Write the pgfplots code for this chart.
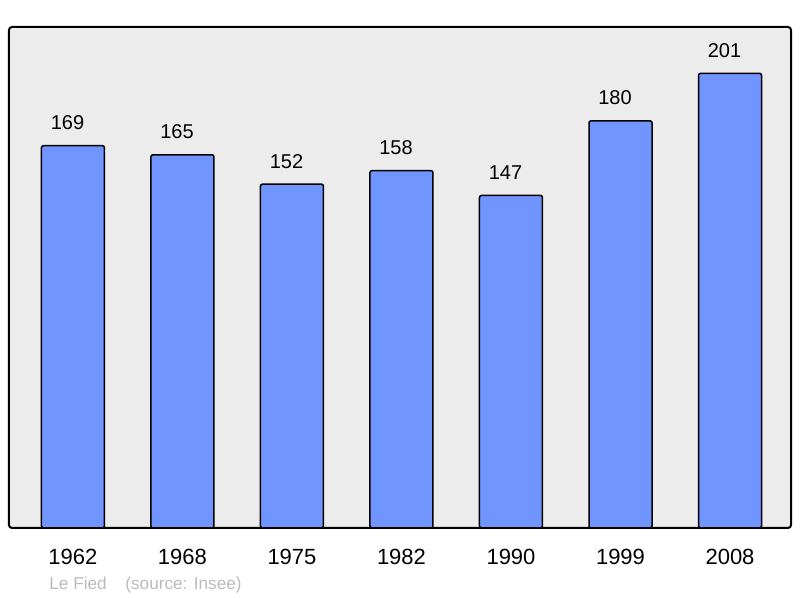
\documentclass[border=0pt]{standalone}
\usepackage{pgfplots}
\pgfplotsset{compat=1.18}
\usepackage{fontspec}
\setmainfont{Liberation Sans}
\definecolor{bggray}{HTML}{ECECEC}
\definecolor{barblue}{HTML}{7095FF}
\definecolor{srcgray}{HTML}{BBBBBB}
\begin{document}
\begin{tikzpicture}
\useasboundingbox (0,0) rectangle (400pt,299pt);
\begin{axis}[
  at={(4.5pt,35pt)}, anchor=south west,
  scale only axis, width=391pt, height=250.5pt,
  xmin=-0.584, xmax=6.557, ymin=0, ymax=221.5,
  axis background/.style={fill=bggray},
  axis line style={line width=1pt, rounded corners=1.5pt},
  ytick=\empty,
  xtick=data, xticklabels={1962,1968,1975,1982,1990,1999,2008},
  major tick length=0pt,
  xticklabel style={font=\fontsize{11}{13}\selectfont, inner sep=0pt, anchor=base, yshift=-18.5pt},
  ybar, bar width=31.5pt,
  nodes near coords,
  /pgf/number format/assume math mode=true,
  every node near coord/.append style={font=\fontsize{10}{12}\selectfont, inner sep=0pt, yshift=7.5pt, xshift=-2.75pt, text=black},
]
\addplot[fill=barblue, draw=black, line width=0.75pt, rounded corners=1pt] coordinates {(0,169) (1,165) (2,152) (3,158) (4,147) (5,180) (6,201)};
\end{axis}
\node[anchor=base west, inner sep=0pt, text=srcgray, font=\fontsize{8.6}{10}\selectfont] at (24.5pt,4pt) {Le Fied};
\node[anchor=base west, inner sep=0pt, text=srcgray, font=\fontsize{8.6}{10}\selectfont] at (62.5pt,4pt) {(source: Insee)};
\end{tikzpicture}
\end{document}
